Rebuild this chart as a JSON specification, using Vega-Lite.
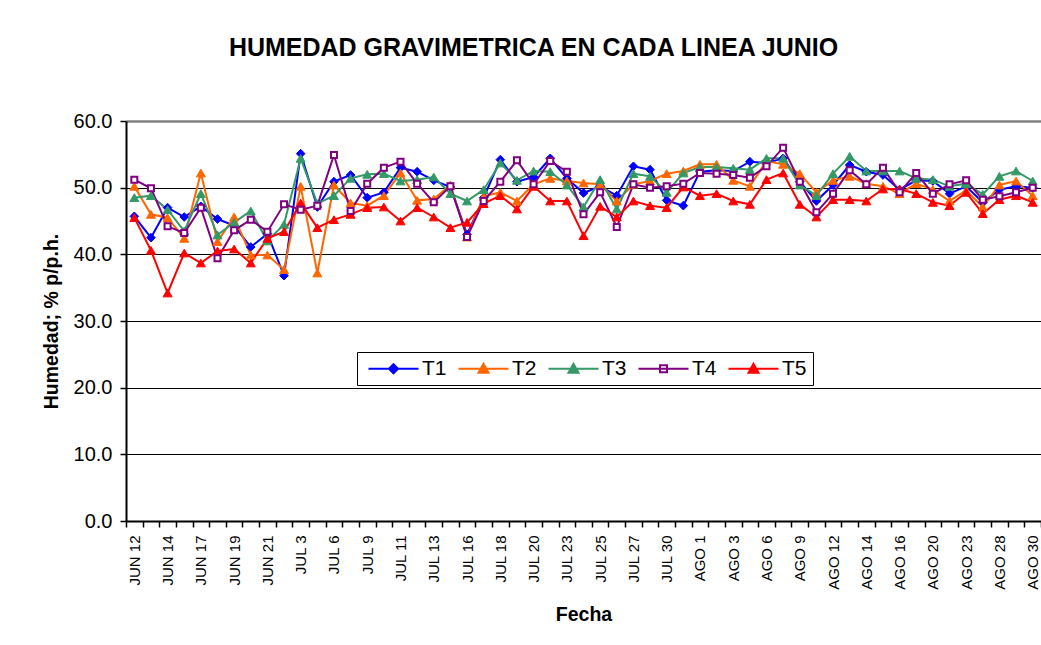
{
  "$schema": "https://vega.github.io/schema/vega-lite/v6.json",
  "width": 915,
  "height": 400,
  "autosize": {"type": "none"},
  "padding": {"left": 126, "top": 121, "right": 0, "bottom": 124},
  "background": "white",
  "config": {"view": {"stroke": null}, "font": "Liberation Sans"},
  "title": {"text": "HUMEDAD GRAVIMETRICA EN CADA LINEA JUNIO", "font": "Liberation Sans", "fontSize": 25, "fontWeight": "bold", "color": "black", "anchor": "middle", "frame": "group", "dx": -50, "offset": 50},
  "data": {"values": [
    {"Fecha": "JUN 12", "T1": 45.7, "T2": 50.2, "T3": 48.5, "T4": 51.2, "T5": 45.5},
    {"Fecha": "JUN 13", "T1": 42.5, "T2": 46.0, "T3": 48.8, "T4": 49.9, "T5": 40.6},
    {"Fecha": "JUN 14", "T1": 47.0, "T2": 45.5, "T3": 46.7, "T4": 44.2, "T5": 34.2},
    {"Fecha": "JUN 16", "T1": 45.6, "T2": 42.4, "T3": 43.5, "T4": 43.2, "T5": 40.2},
    {"Fecha": "JUN 17", "T1": 47.2, "T2": 52.2, "T3": 49.1, "T4": 47.0, "T5": 38.7},
    {"Fecha": "JUN 18", "T1": 45.3, "T2": 41.9, "T3": 42.9, "T4": 39.4, "T5": 40.5},
    {"Fecha": "JUN 19", "T1": 44.3, "T2": 45.6, "T3": 44.8, "T4": 43.6, "T5": 40.8},
    {"Fecha": "JUN 20", "T1": 41.1, "T2": 39.9, "T3": 46.5, "T4": 45.2, "T5": 38.7},
    {"Fecha": "JUN 21", "T1": 43.1, "T2": 39.9, "T3": 42.0, "T4": 43.4, "T5": 42.4},
    {"Fecha": "JUN 22", "T1": 36.8, "T2": 37.7, "T3": 44.5, "T4": 47.5, "T5": 43.4},
    {"Fecha": "JUL 3", "T1": 55.1, "T2": 50.2, "T3": 54.4, "T4": 46.7, "T5": 47.7},
    {"Fecha": "JUL 5", "T1": 47.1, "T2": 37.2, "T3": 47.6, "T4": 47.3, "T5": 44.0},
    {"Fecha": "JUL 6", "T1": 50.9, "T2": 50.4, "T3": 48.8, "T4": 54.9, "T5": 45.2},
    {"Fecha": "JUL 7", "T1": 51.9, "T2": 47.7, "T3": 51.4, "T4": 46.5, "T5": 46.0},
    {"Fecha": "JUL 9", "T1": 48.5, "T2": 47.3, "T3": 52.0, "T4": 50.6, "T5": 47.0},
    {"Fecha": "JUL 10", "T1": 49.3, "T2": 48.8, "T3": 52.1, "T4": 53.0, "T5": 47.1},
    {"Fecha": "JUL 11", "T1": 53.0, "T2": 52.2, "T3": 51.0, "T4": 53.9, "T5": 45.0},
    {"Fecha": "JUL 12", "T1": 52.4, "T2": 48.1, "T3": 51.2, "T4": 50.6, "T5": 47.0},
    {"Fecha": "JUL 13", "T1": 51.1, "T2": 48.3, "T3": 51.6, "T4": 47.8, "T5": 45.6},
    {"Fecha": "JUL 14", "T1": 50.1, "T2": 50.4, "T3": 49.1, "T4": 50.2, "T5": 44.0},
    {"Fecha": "JUL 16", "T1": 43.0, "T2": 42.6, "T3": 48.0, "T4": 42.6, "T5": 44.8},
    {"Fecha": "JUL 17", "T1": 48.5, "T2": 48.7, "T3": 49.7, "T4": 48.0, "T5": 47.6},
    {"Fecha": "JUL 18", "T1": 54.2, "T2": 49.3, "T3": 53.7, "T4": 50.9, "T5": 48.8},
    {"Fecha": "JUL 19", "T1": 50.9, "T2": 48.0, "T3": 51.1, "T4": 54.1, "T5": 46.8},
    {"Fecha": "JUL 20", "T1": 51.6, "T2": 50.5, "T3": 52.5, "T4": 50.5, "T5": 50.2},
    {"Fecha": "JUL 21", "T1": 54.4, "T2": 51.4, "T3": 52.4, "T4": 54.0, "T5": 48.0},
    {"Fecha": "JUL 23", "T1": 51.4, "T2": 51.0, "T3": 50.4, "T4": 52.4, "T5": 48.0},
    {"Fecha": "JUL 24", "T1": 49.2, "T2": 50.7, "T3": 47.1, "T4": 46.0, "T5": 42.8},
    {"Fecha": "JUL 25", "T1": 50.2, "T2": 50.5, "T3": 51.2, "T4": 49.3, "T5": 47.2},
    {"Fecha": "JUL 26", "T1": 48.8, "T2": 48.0, "T3": 46.8, "T4": 44.1, "T5": 45.6},
    {"Fecha": "JUL 27", "T1": 53.2, "T2": 50.5, "T3": 52.1, "T4": 50.5, "T5": 48.0},
    {"Fecha": "JUL 28", "T1": 52.7, "T2": 51.0, "T3": 51.7, "T4": 50.0, "T5": 47.3},
    {"Fecha": "JUL 30", "T1": 48.1, "T2": 52.1, "T3": 49.3, "T4": 50.2, "T5": 47.0},
    {"Fecha": "JUL 31", "T1": 47.3, "T2": 52.5, "T3": 52.2, "T4": 50.6, "T5": 50.1},
    {"Fecha": "AGO 1", "T1": 52.4, "T2": 53.5, "T3": 53.1, "T4": 52.2, "T5": 48.8},
    {"Fecha": "AGO 2", "T1": 52.6, "T2": 53.5, "T3": 53.1, "T4": 52.1, "T5": 49.1},
    {"Fecha": "AGO 3", "T1": 52.5, "T2": 51.1, "T3": 52.9, "T4": 51.9, "T5": 48.0},
    {"Fecha": "AGO 4", "T1": 53.9, "T2": 50.2, "T3": 52.7, "T4": 51.5, "T5": 47.5},
    {"Fecha": "AGO 6", "T1": 53.7, "T2": 54.0, "T3": 54.4, "T4": 53.2, "T5": 51.2},
    {"Fecha": "AGO 7", "T1": 54.4, "T2": 53.5, "T3": 54.4, "T4": 56.0, "T5": 52.2},
    {"Fecha": "AGO 9", "T1": 50.9, "T2": 52.1, "T3": 50.4, "T4": 50.9, "T5": 47.5},
    {"Fecha": "AGO 10", "T1": 48.0, "T2": 49.3, "T3": 48.8, "T4": 46.3, "T5": 45.6},
    {"Fecha": "AGO 12", "T1": 50.4, "T2": 51.1, "T3": 52.1, "T4": 49.1, "T5": 48.2},
    {"Fecha": "AGO 13", "T1": 53.4, "T2": 51.7, "T3": 54.7, "T4": 52.6, "T5": 48.2},
    {"Fecha": "AGO 14", "T1": 52.4, "T2": 50.6, "T3": 52.5, "T4": 50.5, "T5": 48.0},
    {"Fecha": "AGO 15", "T1": 51.9, "T2": 50.2, "T3": 52.5, "T4": 53.0, "T5": 49.8},
    {"Fecha": "AGO 16", "T1": 49.7, "T2": 49.1, "T3": 52.5, "T4": 49.3, "T5": 49.8},
    {"Fecha": "AGO 17", "T1": 51.1, "T2": 50.6, "T3": 51.4, "T4": 52.2, "T5": 49.1},
    {"Fecha": "AGO 20", "T1": 51.0, "T2": 49.7, "T3": 51.2, "T4": 49.1, "T5": 47.8},
    {"Fecha": "AGO 21", "T1": 49.1, "T2": 48.0, "T3": 50.2, "T4": 50.5, "T5": 47.3},
    {"Fecha": "AGO 23", "T1": 50.2, "T2": 49.6, "T3": 50.6, "T4": 51.1, "T5": 49.3},
    {"Fecha": "AGO 24", "T1": 47.8, "T2": 47.1, "T3": 49.0, "T4": 48.2, "T5": 46.1},
    {"Fecha": "AGO 28", "T1": 49.7, "T2": 50.4, "T3": 51.7, "T4": 48.7, "T5": 48.2},
    {"Fecha": "AGO 29", "T1": 50.2, "T2": 51.0, "T3": 52.5, "T4": 49.3, "T5": 48.8},
    {"Fecha": "AGO 30", "T1": 50.0, "T2": 48.8, "T3": 51.0, "T4": 50.0, "T5": 47.8}
  ]},
  "transform": [{"fold": ["T1", "T2", "T3", "T4", "T5"], "as": ["Serie", "Humedad"]}],
  "encoding": {
    "x": {
      "field": "Fecha", "type": "nominal", "sort": null, "bandPosition": 0.5,
      "scale": {"type": "band", "paddingInner": 0, "paddingOuter": 0},
      "axis": {
        "title": "Fecha", "titleFont": "Liberation Sans", "titleFontSize": 19.5, "titleFontWeight": "bold", "titleColor": "black", "titlePadding": 16,
        "labelAngle": -90, "labelFont": "Liberation Sans", "labelFontSize": 15, "labelColor": "black", "labelPadding": 8, "labelOverlap": false,
        "labelExpr": "indexof(['JUN 12','JUN 14','JUN 17','JUN 19','JUN 21','JUL 3','JUL 6','JUL 9','JUL 11','JUL 13','JUL 16','JUL 18','JUL 20','JUL 23','JUL 25','JUL 27','JUL 30','AGO 1','AGO 3','AGO 6','AGO 9','AGO 12','AGO 14','AGO 16','AGO 20','AGO 23','AGO 28','AGO 30'], datum.value) >= 0 ? datum.value : ''",
        "tickBand": "extent", "tickSize": 6, "tickWidth": 1.5, "tickColor": "black",
        "domainColor": "black", "domainWidth": 2, "grid": false
      }
    },
    "y": {
      "field": "Humedad", "type": "quantitative",
      "scale": {"domain": [0, 60], "nice": false, "zero": true},
      "axis": {
        "title": "Humedad; % p/p.h.", "titleFont": "Liberation Sans", "titleFontSize": 19.5, "titleFontWeight": "bold", "titleColor": "black", "titlePadding": 12,
        "values": [0, 10, 20, 30, 40, 50, 60], "format": ".1f",
        "labelFont": "Liberation Sans", "labelFontSize": 20, "labelColor": "black", "labelPadding": 8,
        "tickSize": 6, "tickWidth": 1.5, "tickColor": "black",
        "domainColor": "black", "domainWidth": 2,
        "grid": true,
        "gridColor": {"condition": {"test": "datum.value == 60", "value": "#808080"}, "value": "black"},
        "gridWidth": {"condition": {"test": "datum.value == 60", "value": 2.5}, "value": 1}
      }
    }
  },
  "layer": [
    {
      "mark": {"type": "line", "strokeWidth": 2},
      "encoding": {
        "stroke": {"field": "Serie", "type": "nominal", "scale": {"domain": ["T1", "T2", "T3", "T4", "T5"], "range": ["#0000FF", "#FF6600", "#339966", "#800080", "#FF0000"]}}
      }
    },
    {
      "transform": [{"filter": "datum.Serie == 'T1'"}],
      "mark": {"type": "point", "shape": "diamond", "filled": true, "size": 75, "strokeWidth": 1, "opacity": 1},
      "encoding": {
        "stroke": {"field": "Serie", "type": "nominal", "scale": {"domain": ["T1", "T2", "T3", "T4", "T5"]}},
        "fill": {"field": "Serie", "type": "nominal", "scale": {"domain": ["T1", "T2", "T3", "T4", "T5"], "range": ["#0000FF", "#FF6600", "#339966", "#FFFFFF", "#FF0000"]}}
      }
    },
    {
      "transform": [{"filter": "datum.Serie == 'T2' || datum.Serie == 'T3' || datum.Serie == 'T5'"}],
      "mark": {"type": "point", "shape": "triangle-up", "filled": true, "size": 80, "strokeWidth": 1, "opacity": 1},
      "encoding": {
        "stroke": {"field": "Serie", "type": "nominal", "scale": {"domain": ["T1", "T2", "T3", "T4", "T5"]}},
        "fill": {"field": "Serie", "type": "nominal", "scale": {"domain": ["T1", "T2", "T3", "T4", "T5"]}}
      }
    },
    {
      "transform": [{"filter": "datum.Serie == 'T4'"}],
      "mark": {"type": "point", "shape": "square", "filled": true, "size": 36, "strokeWidth": 2, "opacity": 1},
      "encoding": {
        "stroke": {"field": "Serie", "type": "nominal", "scale": {"domain": ["T1", "T2", "T3", "T4", "T5"]}},
        "fill": {"field": "Serie", "type": "nominal", "scale": {"domain": ["T1", "T2", "T3", "T4", "T5"]}}
      }
    },
    {
      "transform": [{"filter": "datum.Serie == 'none'"}],
      "mark": {"type": "point", "filled": true, "opacity": 1},
      "encoding": {
        "stroke": {"field": "Serie", "type": "nominal", "scale": {"domain": ["T1", "T2", "T3", "T4", "T5"]},
          "legend": {"orient": "none", "legendX": 231, "legendY": 231, "direction": "horizontal", "title": null, "fillColor": "white", "strokeColor": "black", "padding": 6, "symbolSize": 100, "symbolStrokeWidth": 2, "labelFont": "Liberation Sans", "labelFontSize": 21, "labelColor": "black", "labelOffset": 38, "columnPadding": 6, "symbolOpacity": 1}},
        "fill": {"field": "Serie", "type": "nominal", "scale": {"domain": ["T1", "T2", "T3", "T4", "T5"]},
          "legend": {"orient": "none", "legendX": 231, "legendY": 231, "direction": "horizontal", "title": null, "fillColor": "white", "strokeColor": "black", "padding": 6, "symbolSize": 100, "symbolStrokeWidth": 2, "labelFont": "Liberation Sans", "labelFontSize": 21, "labelColor": "black", "labelOffset": 38, "columnPadding": 6, "symbolOpacity": 1}},
        "shape": {"field": "Serie", "type": "nominal",
          "scale": {"domain": ["T1", "T2", "T3", "T4", "T5"], "range": [
            "M-1,0H9M4,-0.9L4.9,0L4,0.9L3.1,0Z",
            "M-1,0H9M3,0.8L4,-1L5,0.8Z",
            "M-1,0H9M3,0.8L4,-1L5,0.8Z",
            "M-1,0H9M3.3,-0.7H4.7V0.7H3.3Z",
            "M-1,0H9M3,0.8L4,-1L5,0.8Z"]},
          "legend": {"orient": "none", "legendX": 231, "legendY": 231, "direction": "horizontal", "title": null, "fillColor": "white", "strokeColor": "black", "padding": 6, "symbolSize": 100, "symbolStrokeWidth": 2, "labelFont": "Liberation Sans", "labelFontSize": 21, "labelColor": "black", "labelOffset": 38, "columnPadding": 6, "symbolOpacity": 1}}
      }
    }
  ]
}
